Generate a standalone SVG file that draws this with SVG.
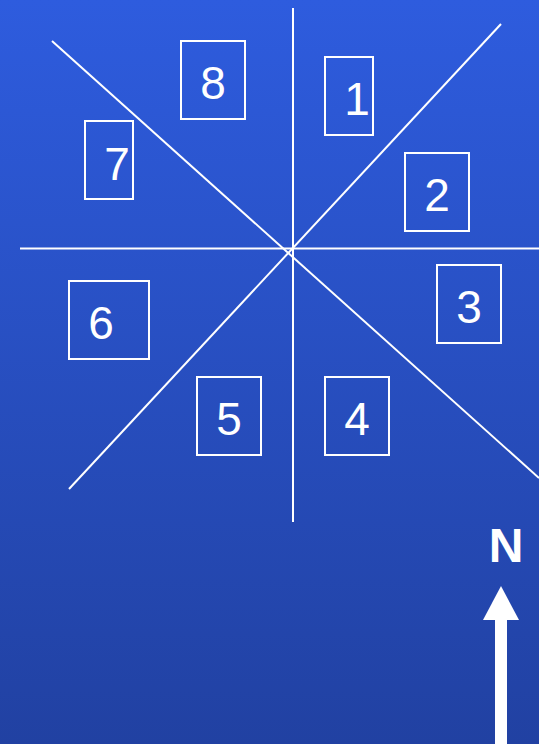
<svg xmlns="http://www.w3.org/2000/svg" width="539" height="744" viewBox="0 0 539 744">
<defs>
<linearGradient id="bg" x1="0" y1="0" x2="0" y2="1">
<stop offset="0" stop-color="#2E5CDE"/>
<stop offset="1" stop-color="#2141A2"/>
</linearGradient>
<style>
.ln{stroke:#fff;stroke-width:2;fill:none}
.bx{stroke:#fff;stroke-width:2;fill:none}
.t{fill:#fff;font-family:"Liberation Sans",Arial,sans-serif;font-size:46px;text-anchor:middle}
</style>
</defs>
<rect width="539" height="744" fill="url(#bg)"/>
<g id="connectors">
<line class="ln" x1="293" y1="8" x2="293" y2="522"/>
<line class="ln" x1="20" y1="248.5" x2="539" y2="248.5"/>
<line class="ln" x1="52" y1="41" x2="539" y2="478"/>
<line class="ln" x1="501" y1="24" x2="69" y2="489"/>
</g>
<g id="n1"><rect class="bx" x="325" y="57" width="48" height="78"/><text class="t" x="357" y="115">1</text></g>
<g id="n2"><rect class="bx" x="405" y="153" width="64" height="78"/><text class="t" x="437" y="211">2</text></g>
<g id="n3"><rect class="bx" x="437" y="265" width="64" height="78"/><text class="t" x="469" y="323">3</text></g>
<g id="n4"><rect class="bx" x="325" y="377" width="64" height="78"/><text class="t" x="357" y="435">4</text></g>
<g id="n5"><rect class="bx" x="197" y="377" width="64" height="78"/><text class="t" x="229" y="435">5</text></g>
<g id="n6"><rect class="bx" x="69" y="281" width="80" height="78"/><text class="t" x="101" y="339">6</text></g>
<g id="n7"><rect class="bx" x="85" y="121" width="48" height="78"/><text class="t" x="117" y="180">7</text></g>
<g id="n8"><rect class="bx" x="181" y="41" width="64" height="78"/><text class="t" x="213" y="99">8</text></g>
<g id="north">
<text x="506" y="562" fill="#fff" font-family="'Liberation Sans',Arial,sans-serif" font-size="48" font-weight="bold" text-anchor="middle">N</text>
<polygon points="501,586 519,620 483,620" fill="#fff"/>
<rect x="495" y="619" width="12" height="125" fill="#fff"/>
</g>
</svg>
